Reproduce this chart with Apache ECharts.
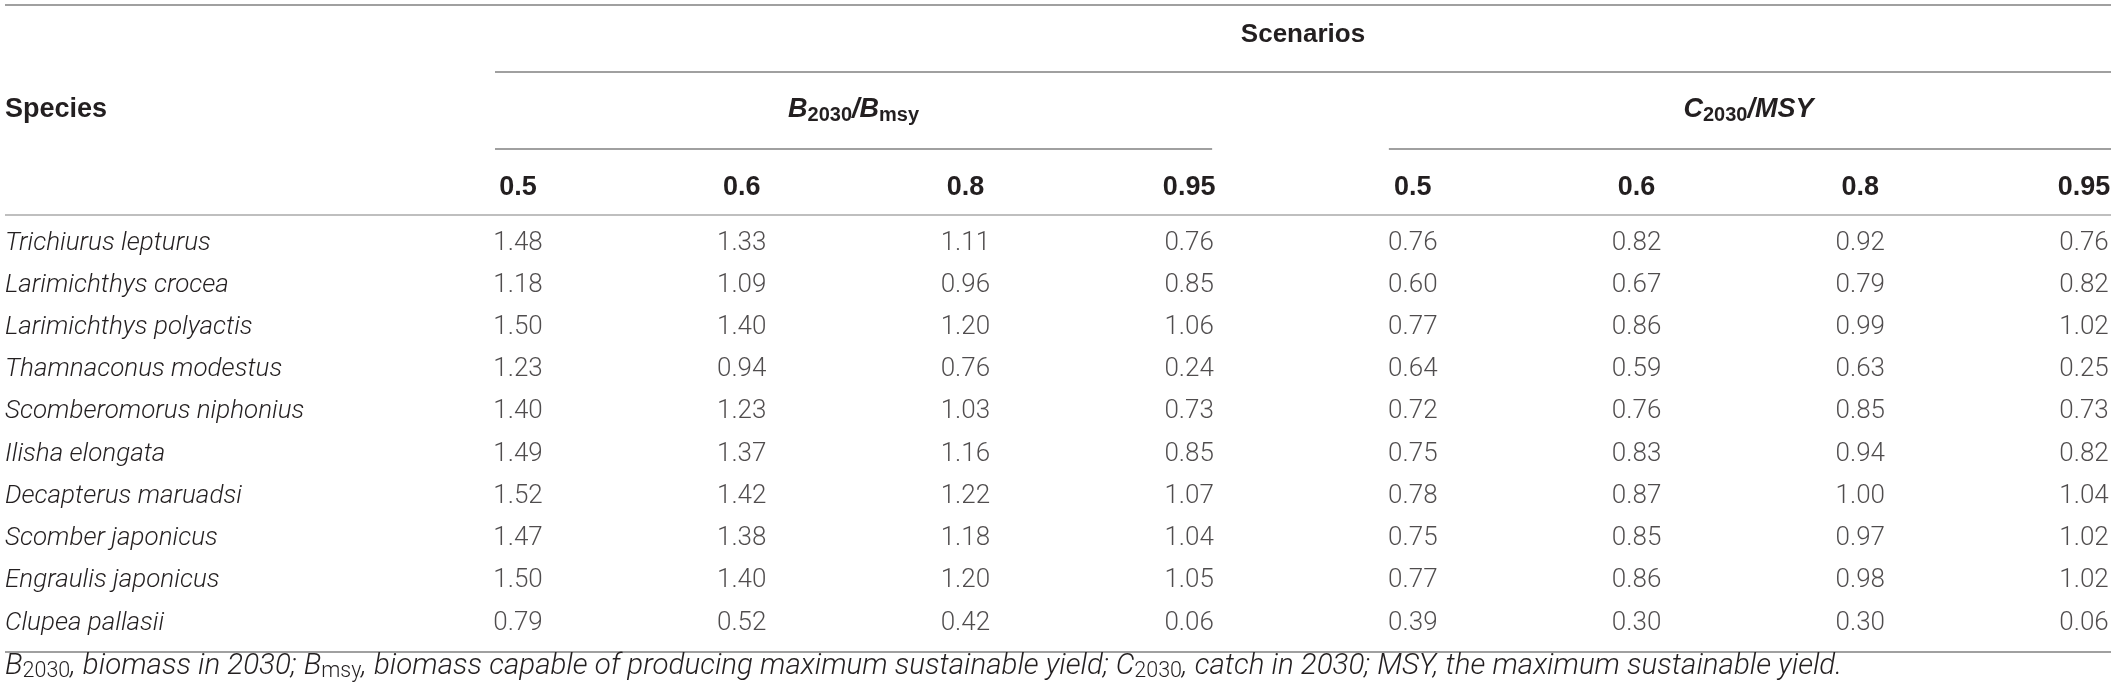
<!DOCTYPE html>
<html>
<head>
	<title>Scenarios table</title>
	<meta charset="utf-8">
	<style type="text/css">
		body {
			margin: 0;
			padding: 0;
			background-color: #fff;
		}
		#main {
			width: 2117px;
			height: 699px;
		}
	</style>
	<script src="https://cdn.jsdelivr.net/npm/echarts/dist/echarts.min.js"></script>
</head>
<body>

	<div id="main"></div>

	<script type="text/javascript">

	// table data
	var species = ['Trichiurus lepturus', 'Larimichthys crocea', 'Larimichthys polyactis',
		'Thamnaconus modestus', 'Scomberomorus niphonius', 'Ilisha elongata',
		'Decapterus maruadsi', 'Scomber japonicus', 'Engraulis japonicus', 'Clupea pallasii'];
	var thresholds = ['0.5', '0.6', '0.8', '0.95'];

	// B2030/Bmsy
	var bmsy05 = [1.48, 1.18, 1.50, 1.23, 1.40, 1.49, 1.52, 1.47, 1.50, 0.79];
	var bmsy06 = [1.33, 1.09, 1.40, 0.94, 1.23, 1.37, 1.42, 1.38, 1.40, 0.52];
	var bmsy08 = [1.11, 0.96, 1.20, 0.76, 1.03, 1.16, 1.22, 1.18, 1.20, 0.42];
	var bmsy095 = [0.76, 0.85, 1.06, 0.24, 0.73, 0.85, 1.07, 1.04, 1.05, 0.06];
	// C2030/MSY
	var msy05 = [0.76, 0.60, 0.77, 0.64, 0.72, 0.75, 0.78, 0.75, 0.77, 0.39];
	var msy06 = [0.82, 0.67, 0.86, 0.59, 0.76, 0.83, 0.87, 0.85, 0.86, 0.30];
	var msy08 = [0.92, 0.79, 0.99, 0.63, 0.85, 0.94, 1.00, 0.97, 0.98, 0.30];
	var msy095 = [0.76, 0.82, 1.02, 0.25, 0.73, 0.82, 1.04, 1.02, 1.02, 0.06];

	var footnote = '{i|B}{sub|2030}{i|, biomass in 2030; }{i|B}{sub|msy}{i|, biomass capable of producing maximum sustainable yield; }' +
		'{i|C}{sub|2030}{i|, catch in 2030; MSY, the maximum sustainable yield.}';

	var FONT = 'Roboto';
	var HEAD_FONT = 'Liberation Sans';
	var INK = '#231f20';
	var RULE = '#808080';

	var columns = [bmsy05, bmsy06, bmsy08, bmsy095, msy05, msy06, msy08, msy095];
	var cells = [];
	for (var c = 0; c < columns.length; c++) {
		for (var r = 0; r < species.length; r++) {
			cells.push([c, r, columns[c][r]]);
		}
	}

	var myChart = echarts.init(document.getElementById('main'));

	var option = {
		animation: false,
		grid: { left: 518, right: 33, top: 243, bottom: 76 },
		xAxis: {
			type: 'value',
			position: 'top',
			min: 0,
			max: 7,
			interval: 1,
			axisLine: { show: false },
			axisTick: { show: false },
			splitLine: { show: false },
			axisLabel: {
				margin: 42,
				fontFamily: HEAD_FONT,
				fontWeight: 'bold',
				fontSize: 27,
				color: INK,
				formatter: function (v) { return thresholds[v % 4]; }
			}
		},
		yAxis: {
			type: 'category',
			inverse: true,
			boundaryGap: false,
			data: species,
			axisLine: { show: false },
			axisTick: { show: false },
			splitLine: { show: false },
			axisLabel: {
				interval: 0,
				align: 'left',
				margin: 513,
				fontFamily: FONT,
				fontStyle: 'italic',
				fontWeight: 300,
				fontSize: 26,
				color: INK
			}
		},
		series: [{
			type: 'scatter',
			symbolSize: 1,
			itemStyle: { color: 'rgba(0,0,0,0)' },
			data: cells,
			label: {
				show: true,
				position: 'inside',
				fontFamily: FONT,
				fontWeight: 300,
				fontSize: 26,
				color: INK,
				formatter: function (p) { return p.value[2].toFixed(2); }
			}
		}]
	};
	myChart.setOption(option);

	// header rules and group titles, placed from the axes
	var y0 = myChart.convertToPixel({ yAxisIndex: 0 }, 0);
	var step = myChart.convertToPixel({ yAxisIndex: 0 }, 1) - y0;
	function rowY(u) { return y0 + u * step; }
	function colX(i) { return myChart.convertToPixel({ xAxisIndex: 0 }, i); }

	var leftEdge = 5;
	var rightEdge = colX(7) + 27;
	var bLeft = colX(0) - 23, bRight = colX(3) + 23;
	var cLeft = colX(4) - 24;

	function rule(x1, x2, y, color) {
		return {
			type: 'line',
			shape: { x1: x1, y1: y, x2: x2, y2: y },
			style: { stroke: color || RULE, lineWidth: 1.5 }
		};
	}

	var headRich = {
		hb: { fontFamily: HEAD_FONT, fontWeight: 'bold', fontStyle: 'italic', fontSize: 27, fill: INK },
		hs: { fontFamily: HEAD_FONT, fontWeight: 'bold', fontSize: 20, fill: INK, padding: [10, 0, 0, 0] }
	};

	var graphics = [
		rule(leftEdge, rightEdge, rowY(-5.637)),
		rule(bLeft, rightEdge, rowY(-4.05)),
		rule(bLeft, bRight, rowY(-2.226)),
		rule(cLeft, rightEdge, rowY(-2.226)),
		rule(leftEdge, rightEdge, rowY(-0.663), '#aaaaaa'),
		rule(leftEdge, rightEdge, rowY(9.687)),
		{
			type: 'text',
			style: {
				text: 'Scenarios', x: (bLeft + rightEdge) / 2, y: rowY(-4.927),
				align: 'center', verticalAlign: 'middle',
				fontFamily: HEAD_FONT, fontWeight: 'bold', fontSize: 26, fill: INK
			}
		},
		{
			type: 'text',
			style: {
				text: 'Species', x: leftEdge, y: rowY(-3.15),
				align: 'left', verticalAlign: 'middle',
				fontFamily: HEAD_FONT, fontWeight: 'bold', fontSize: 27, fill: INK
			}
		},
		{
			type: 'text',
			style: {
				text: '{hb|B}{hs|2030}{hb|/B}{hs|msy}', x: (colX(0) + colX(3)) / 2, y: rowY(-3.15),
				align: 'center', verticalAlign: 'middle', rich: headRich
			}
		},
		{
			type: 'text',
			style: {
				text: '{hb|C}{hs|2030}{hb|/MSY}', x: (colX(4) + colX(7)) / 2, y: rowY(-3.15),
				align: 'center', verticalAlign: 'middle', rich: headRich
			}
		},
		{
			type: 'text',
			style: {
				text: footnote, x: leftEdge, y: rowY(10.03),
				align: 'left', verticalAlign: 'middle',
				rich: {
					i: { fontFamily: FONT, fontStyle: 'italic', fontWeight: 300, fontSize: 29.5, fill: INK },
					sub: { fontFamily: FONT, fontWeight: 300, fontSize: 21.5, fill: INK, padding: [11, 0, 0, 0] }
				}
			}
		}
	];

	myChart.setOption({ graphic: graphics });

	</script>

</body>
</html>
